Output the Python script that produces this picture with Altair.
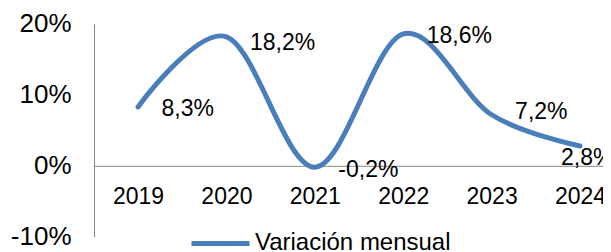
import altair as alt
import pandas as pd

years = ["2019", "2020", "2021", "2022", "2023", "2024"]
values = [8.3, 18.2, -0.2, 18.6, 7.2, 2.8]
labels = ["8,3%", "18,2%", "-0,2%", "18,6%", "7,2%", "2,8%"]
series = "Variación mensual"
y_ticks = [-10, 0, 10, 20]

# data-label offsets (style, px)
label_dx = [23.5, 23.5, 23.5, 23.5, 23.5, -19]
label_dy = [2, 6, 3, 2.5, -3, 12]

df = pd.DataFrame({"year": years, "value": values, "label": labels, "series": [series] * len(years)})

FONT = "Liberation Sans"
BLUE = "#4A7EBB"
GRAY = "#888888"

yscale = alt.Scale(domain=[-10, 20], nice=False, zero=False)
xenc = alt.X("year:O", scale=alt.Scale(type="point", padding=0.379, align=0.657, round=False),
             axis=alt.Axis(orient="bottom", offset=-70.9, ticks=False, tickSize=0, grid=False,
                           domainColor=GRAY, labelFont=FONT, labelFontSize=23, labelColor="black",
                           labelAngle=0, labelBaseline="middle", labelPadding=31, title=None))

base = alt.Chart(df)

line = base.mark_line(interpolate="cardinal", strokeWidth=5, strokeCap="round").encode(
    x=xenc,
    y=alt.Y("value:Q", scale=yscale,
            axis=alt.Axis(values=y_ticks, labelExpr="datum.value + '%'", ticks=False, tickSize=0,
                          grid=False, domainColor=GRAY, labelFont=FONT, labelFontSize=26,
                          labelColor="black", labelPadding=23, title=None)),
    color=alt.Color("series:N", scale=alt.Scale(range=[BLUE]),
                    legend=alt.Legend(orient="none", legendX=95, legendY=188, title=None,
                                      symbolType="stroke", symbolSize=3364, symbolStrokeWidth=5,
                                      labelFont=FONT, labelFontSize=24, labelColor="black",
                                      labelOffset=3, labelLimit=0, padding=0)),
)

label_layers = []
for i, lab in enumerate(labels):
    label_layers.append(
        base.transform_filter(alt.datum.label == lab)
        .mark_text(font=FONT, fontSize=23, color="black", align="left", baseline="middle",
                   dx=label_dx[i], dy=label_dy[i])
        .encode(x=xenc, y=alt.Y("value:Q", scale=yscale), text="label:N")
    )

chart = alt.layer(line, *label_layers).properties(
    width=509, height=212.7,
    autosize=alt.AutoSizeParams(type="none"),
    padding={"left": 86, "top": 16, "right": 0, "bottom": 16},
).configure_view(stroke=None)

chart.save("out.html", embed_options={"renderer": "svg", "actions": False})
